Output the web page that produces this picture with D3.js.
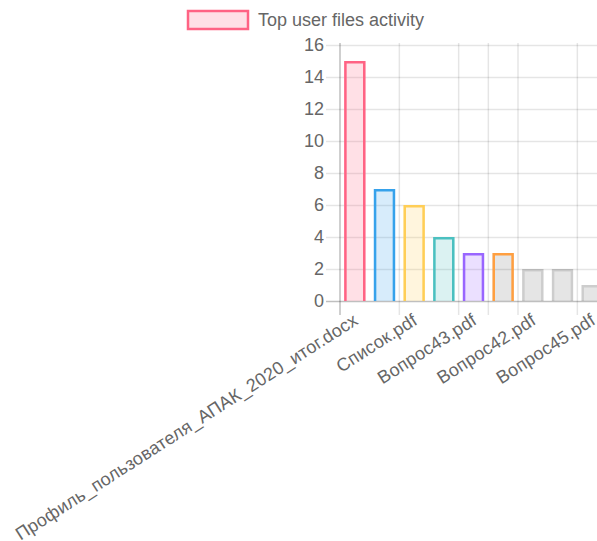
<!DOCTYPE html>
<html>
<head>
<meta charset="utf-8">
<script src="https://cdn.jsdelivr.net/npm/d3@7/dist/d3.min.js"></script>
<style>
  html, body { margin: 0; padding: 0; background: #fff; overflow: hidden; }
  svg { display: block; }
  text { font-family: "Liberation Sans", Arial, Helvetica, sans-serif; fill: #666; }
</style>
</head>
<body>
<div id="chart"></div>
<script>
// Top user files activity: one dataset, one bar per file.
const seriesName = "Top user files activity";
// Every second name is skipped on the axis; those names are not shown.
const fileNames = [
  "Профиль_пользователя_АПАК_2020_итог.docx",
  null,
  "Список.pdf",
  null,
  "Вопрос43.pdf",
  null,
  "Вопрос42.pdf",
  null,
  "Вопрос45.pdf"
];
const activityCounts = [15, 7, 6, 4, 3, 3, 2, 2, 1];
const yTickValues = [0, 2, 4, 6, 8, 10, 12, 14, 16];

const fillColors = [
  "rgba(255,99,132,0.2)", "rgba(54,162,235,0.2)", "rgba(255,206,86,0.2)",
  "rgba(75,192,192,0.2)", "rgba(153,102,255,0.2)"
];
const borderColors = [
  "rgb(255,99,132)", "rgb(54,162,235)", "rgb(255,206,86)",
  "rgb(75,192,192)", "rgb(153,102,255)", "rgb(255,159,64)"
];
const defaultFill = "rgba(0,0,0,0.1)";
const defaultBorder = "rgba(0,0,0,0.1)";

const W = 615, H = 541;
const area = { left: 340, right: 607, top: 45, bottom: 301 };
const tickLen = 14;
const fontSize = 18;

const svg = d3.select("#chart").append("svg")
  .attr("width", W).attr("height", H);

const idx = d3.range(activityCounts.length);
const x = d3.scaleBand().domain(idx).range([area.left, area.right])
  .paddingInner(0).paddingOuter(0);
const y = d3.scaleLinear().domain([0, 16]).range([area.bottom, area.top]);

// horizontal grid
svg.append("g").selectAll("line").data(yTickValues).join("line")
  .attr("x1", area.left - tickLen).attr("x2", W)
  .attr("y1", d => Math.round(y(d)) + 0.5).attr("y2", d => Math.round(y(d)) + 0.5)
  .attr("stroke", d => d === 0 ? "rgba(0,0,0,0.25)" : "rgba(0,0,0,0.1)")
  .attr("stroke-width", 1.5);

// vertical grid at category boundaries (auto-skipped ticks)
const gridBoundaries = [0, 2, 4, 5, 6, 8, 9];
const boundaryX = b => b < idx.length ? x(b) : x(idx.length - 1) + x.bandwidth();
svg.append("g").selectAll("line").data(gridBoundaries).join("line")
  .attr("x1", b => boundaryX(b)).attr("x2", b => boundaryX(b))
  .attr("y1", area.top - 2).attr("y2", area.bottom + tickLen)
  .attr("stroke", b => b === 0 ? "rgba(0,0,0,0.25)" : "rgba(0,0,0,0.1)")
  .attr("stroke-width", 1.5);

// y axis labels
const yAxis = d3.axisLeft(y).tickValues(yTickValues).tickSize(0).tickPadding(tickLen + 2);
const gy = svg.append("g").attr("transform", `translate(${area.left},0)`).call(yAxis);
gy.select(".domain").remove();
gy.selectAll("text").attr("font-size", fontSize).style("fill", "#666")
  .attr("font-family", "Liberation Sans, Arial, sans-serif");

// bars
const barFrac = 0.72;
const bw = x.bandwidth() * barFrac;
const bx = i => x(i) + (x.bandwidth() - bw) / 2;
const borderW = 2.5;
const bars = svg.append("g");
bars.selectAll("rect").data(activityCounts).join("rect")
  .attr("x", (d, i) => bx(i)).attr("width", bw)
  .attr("y", d => y(d)).attr("height", d => y(0) - y(d))
  .attr("fill", (d, i) => fillColors[i] || defaultFill);
// borders on top, left and right (bottom edge skipped)
bars.selectAll("path").data(activityCounts).join("path")
  .attr("d", (d, i) => {
    const h = borderW / 2;
    const x0 = bx(i) + h, x1 = bx(i) + bw - h, yt = y(d) + h, yb = y(0);
    return `M${x0},${yb}V${yt}H${x1}V${yb}`;
  })
  .attr("fill", "none")
  .attr("stroke", (d, i) => borderColors[i] || defaultBorder)
  .attr("stroke-width", borderW);

// x axis labels, rotated
const xAxis = d3.axisBottom(x).tickSize(0).tickFormat(i => fileNames[i] || "");
const gx = svg.append("g").attr("transform", `translate(0,${area.bottom})`).call(xAxis);
gx.select(".domain").remove();
gx.selectAll(".tick text")
  .attr("font-size", fontSize).style("fill", "#666")
  .attr("font-family", "Liberation Sans, Arial, sans-serif")
  .attr("letter-spacing", "0.2px")
  .attr("text-anchor", "end")
  .attr("x", 0).attr("y", 0).attr("dy", "0.35em")
  .attr("transform", `translate(1,17) rotate(-32.7)`);

// legend
const lg = svg.append("g");
lg.append("rect").attr("x", 188).attr("y", 11).attr("width", 60).attr("height", 18)
  .attr("fill", fillColors[0]).attr("stroke", borderColors[0]).attr("stroke-width", 2.5);
lg.append("text").attr("x", 258).attr("y", 20).attr("dy", "0.35em")
  .attr("font-size", fontSize).text(seriesName);
</script>
</body>
</html>
